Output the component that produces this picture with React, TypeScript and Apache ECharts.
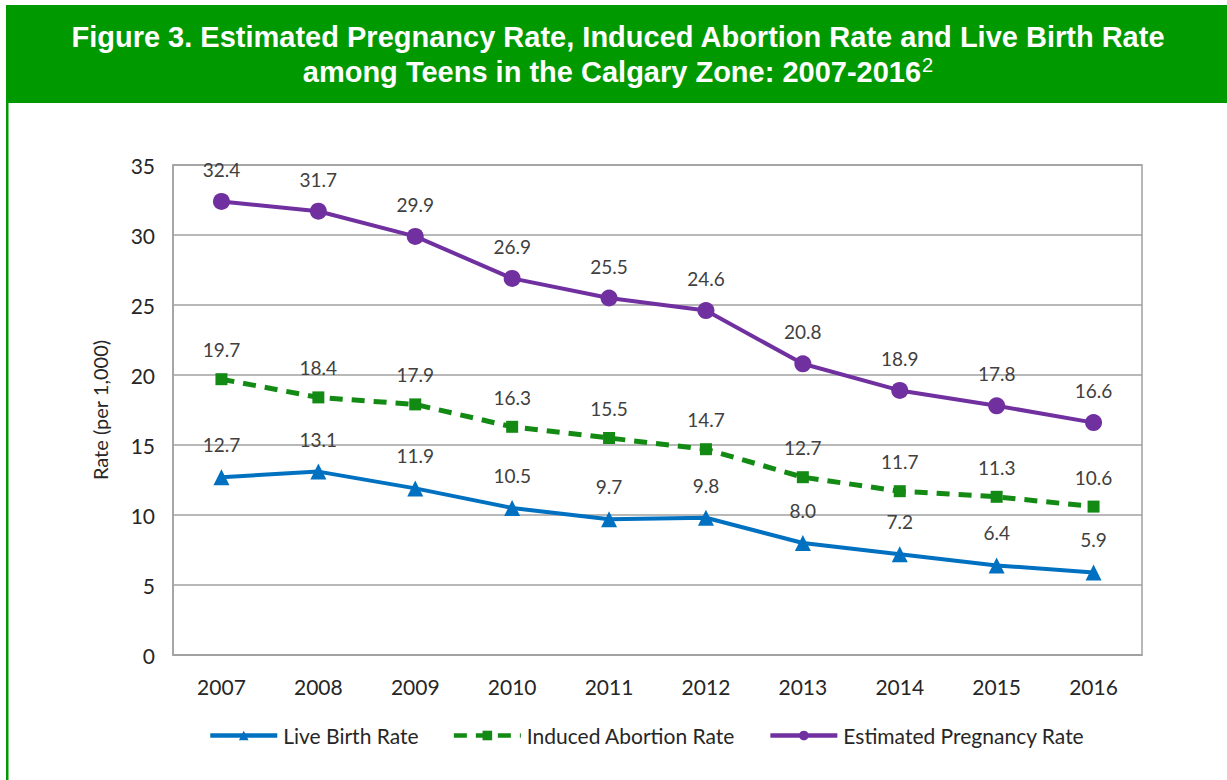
import React, { useEffect, useRef } from "react";
import * as echarts from "echarts";

const years = ["2007", "2008", "2009", "2010", "2011", "2012", "2013", "2014", "2015", "2016"];
const liveBirth = [12.7, 13.1, 11.9, 10.5, 9.7, 9.8, 8.0, 7.2, 6.4, 5.9];
const abortion = [19.7, 18.4, 17.9, 16.3, 15.5, 14.7, 12.7, 11.7, 11.3, 10.6];
const pregnancy = [32.4, 31.7, 29.9, 26.9, 25.5, 24.6, 20.8, 18.9, 17.8, 16.6];

const titleLine1 = "Figure 3. Estimated Pregnancy Rate, Induced Abortion Rate and Live Birth Rate";
const titleLine2 = "among Teens in the Calgary Zone: 2007-2016";
const titleSup = "2";

const FONT = "Lato, 'Open Sans', sans-serif";
const TFONT = "'Liberation Sans', Arial, sans-serif";

export default function App() {
  const ref = useRef<HTMLDivElement>(null);
  useEffect(() => {
    if (!ref.current) return;
    const chart = echarts.init(ref.current, undefined, { renderer: "svg" });
    const labelStyle = (dist: number) => ({
      show: true,
      position: "top" as const,
      distance: dist,
      color: "#404040",
      fontSize: 19,
      fontFamily: FONT,
      formatter: (p: any) => Number(p.value).toFixed(1),
    });
    chart.setOption({
      animation: false,
      backgroundColor: "#ffffff",
      textStyle: { fontFamily: FONT },
      graphic: [
        { type: "rect", shape: { x: 6, y: 5, width: 1221, height: 98 }, style: { fill: "#009900" }, silent: true },
        { type: "rect", shape: { x: 6, y: 5, width: 2.5, height: 775 }, style: { fill: "#009900" }, silent: true },
        {
          type: "text",
          x: 618,
          y: 37,
          style: {
            text: titleLine1,
            fill: "#ffffff",
            font: "bold 29px " + TFONT,
            align: "center",
            verticalAlign: "middle",
          },
        },
        {
          type: "text",
          x: 618,
          y: 72,
          style: {
            text: "{b|" + titleLine2 + "}{s|" + titleSup + "}",
            fill: "#ffffff",
            align: "center",
            verticalAlign: "middle",
            rich: {
              b: {
                fill: "#ffffff",
                fontFamily: TFONT,
                fontWeight: "bold",
                fontSize: 29,
                lineHeight: 34,
              },
              s: {
                fill: "#ffffff",
                fontFamily: TFONT,
                fontWeight: "normal",
                fontSize: 20,
                lineHeight: 34,
                verticalAlign: "top",
                padding: [0, 0, 14, 1],
              },
            },
          },
        },
      ],
      grid: {
        left: 173,
        top: 165,
        width: 969,
        height: 490,
        show: true,
        borderColor: "#a0a0a0",
        borderWidth: 1.5,
        containLabel: false,
      },
      legend: {
        left: 203,
        top: 720,
        itemWidth: 67,
        itemHeight: 12,
        itemGap: 33,
        lineStyle: { width: 4.5 },
        textStyle: { fontSize: 21, color: "#262626", fontFamily: FONT, padding: [0, 0, 0, 1] },
        data: ["Live Birth Rate", "Induced Abortion Rate", "Estimated Pregnancy Rate"],
      },
      xAxis: {
        type: "category",
        data: years,
        boundaryGap: true,
        axisLine: { show: true, lineStyle: { color: "#a0a0a0", width: 1.5 } },
        axisTick: { show: false },
        axisLabel: { color: "#262626", fontSize: 21, margin: 21, fontFamily: FONT },
      },
      yAxis: {
        type: "value",
        min: 0,
        max: 35,
        interval: 5,
        axisLine: { show: true, lineStyle: { color: "#a0a0a0", width: 1.5 } },
        axisTick: { show: false },
        axisLabel: { color: "#262626", fontSize: 21, margin: 18, fontFamily: FONT },
        splitLine: { lineStyle: { color: "#a0a0a0", width: 1.5 } },
        name: "Rate (per 1,000)",
        nameLocation: "middle",
        nameGap: 63,
        nameTextStyle: { color: "#262626", fontSize: 20, fontFamily: FONT },
      },
      series: [
        {
          name: "Live Birth Rate",
          type: "line",
          data: liveBirth,
          symbol: "triangle",
          symbolSize: 16,
          color: "#0070C0",
          itemStyle: { color: "#0070C0" },
          lineStyle: { color: "#0070C0", width: 4 },
          label: labelStyle(15),
        },
        {
          name: "Induced Abortion Rate",
          type: "line",
          data: abortion,
          symbol: "rect",
          symbolSize: 12,
          color: "#138a13",
          itemStyle: { color: "#138a13" },
          lineStyle: { color: "#138a13", width: 5, type: [13, 9] },
          label: labelStyle(14),
        },
        {
          name: "Estimated Pregnancy Rate",
          type: "line",
          data: pregnancy,
          symbol: "circle",
          symbolSize: 17,
          color: "#7030A0",
          itemStyle: { color: "#7030A0" },
          lineStyle: { color: "#7030A0", width: 4 },
          label: labelStyle(14),
        },
      ],
    });
    return () => chart.dispose();
  }, []);
  return (
    <div
      ref={ref}
      style={{ position: "absolute", left: 0, top: 0, width: 1227, height: 780, background: "#fff" }}
    />
  );
}
